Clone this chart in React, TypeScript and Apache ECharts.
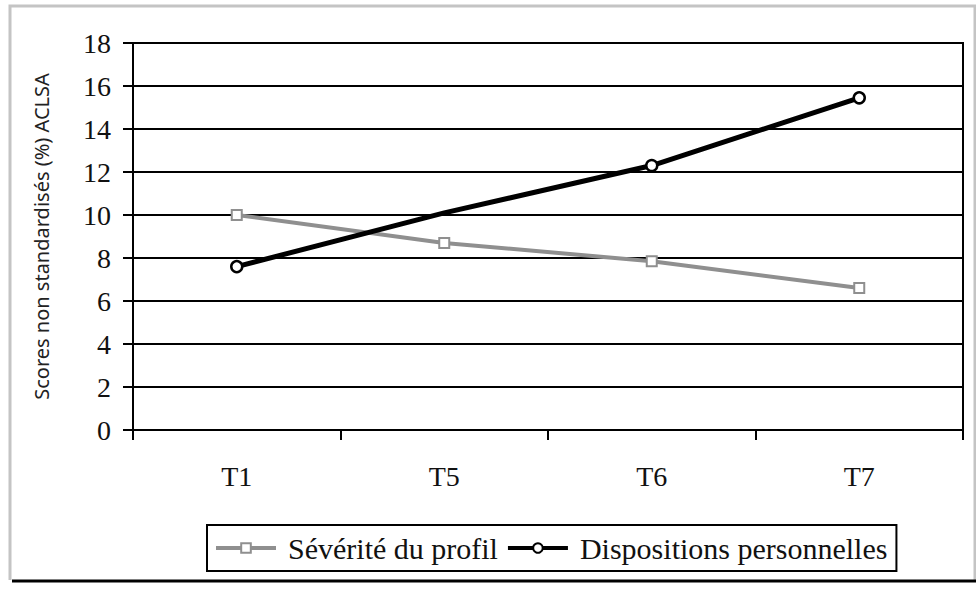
import React, { useEffect, useRef } from "react";
import * as echarts from "echarts";

const categories = ["T1", "T5", "T6", "T7"];
const severite = [10.0, 8.7, 7.85, 6.6];
const dispositions = [7.6, 10.1, 12.3, 15.45];
const dispositionsMarkerShown = [true, false, true, true];
const yTicks = { min: 0, max: 18, interval: 2 };
const seriesNames = ["Sévérité du profil", "Dispositions personnelles"];
const yAxisTitle = "Scores non standardisés (%) ACLSA";

const SERIF = "'Liberation Serif', 'Times New Roman', serif";
const SANS = "'Noto Sans', 'DejaVu Sans', sans-serif";

export default function App() {
  const ref = useRef<HTMLDivElement>(null);
  useEffect(() => {
    if (!ref.current) return;
    const chart = echarts.init(ref.current, undefined, { renderer: "svg" });
    const option: any = {
      animation: false,
      backgroundColor: "#ffffff",
      grid: {
        left: 133,
        top: 43,
        right: 13,
        bottom: 162,
        show: true,
        borderColor: "#000",
        borderWidth: 2,
        backgroundColor: "transparent",
      },
      legend: {
        left: 207,
        top: 525,
        padding: [8, 9, 8, 7],
        borderColor: "#000",
        borderWidth: 2,
        itemGap: 8,
        itemWidth: 60,
        itemHeight: 12,
        lineStyle: { width: 4 },
        textStyle: { fontFamily: SERIF, fontSize: 30, color: "#111", lineHeight: 30, padding: [0, 0, 0, 7] },
        data: seriesNames,
      },
      xAxis: {
        type: "category",
        data: categories,
        boundaryGap: true,
        axisLine: { lineStyle: { color: "#000", width: 2 } },
        axisTick: { show: true, length: 10, lineStyle: { color: "#000", width: 2 } },
        axisLabel: { fontFamily: SERIF, fontSize: 28, color: "#111", margin: 32 },
        splitLine: { show: false },
      },
      yAxis: {
        type: "value",
        min: yTicks.min,
        max: yTicks.max,
        interval: yTicks.interval,
        name: yAxisTitle,
        nameLocation: "middle",
        nameRotate: 90,
        nameGap: 82,
        nameTextStyle: { fontFamily: SANS, fontSize: 20, color: "#222" },
        axisLine: { show: true, lineStyle: { color: "#000", width: 2 } },
        axisTick: { show: true, length: 10, lineStyle: { color: "#000", width: 2 } },
        axisLabel: { fontFamily: SERIF, fontSize: 28, color: "#111", margin: 22 },
        splitLine: { show: true, lineStyle: { color: "#000", width: 2 } },
      },
      series: [
        {
          name: seriesNames[0],
          type: "line",
          data: severite,
          symbol: "rect",
          symbolSize: 10,
          lineStyle: { color: "#8f8f8f", width: 4 },
          itemStyle: { color: "#ffffff", borderColor: "#8f8f8f", borderWidth: 2 },
          z: 3,
        },
        {
          name: seriesNames[1],
          type: "line",
          data: dispositions.map((v, i) =>
            dispositionsMarkerShown[i] ? v : { value: v, symbol: "none" }
          ),
          symbol: "circle",
          symbolSize: 11,
          lineStyle: { color: "#000", width: 5 },
          itemStyle: { color: "#ffffff", borderColor: "#000", borderWidth: 2.5 },
          z: 4,
        },
      ],
      graphic: [
        {
          type: "polyline",
          shape: { points: [[10, 580], [10, 6], [975, 6], [975, 580]] },
          style: { stroke: "#c4c4c4", lineWidth: 3, fill: null },
          silent: true,
        },
        {
          type: "line",
          shape: { x1: 12, y1: 581, x2: 976, y2: 581 },
          style: { stroke: "#000", lineWidth: 3 },
          silent: true,
        },
      ],
    };
    chart.setOption(option);
    return () => chart.dispose();
  }, []);
  return (
    <div
      ref={ref}
      style={{ position: "fixed", left: 0, top: 0, width: 976, height: 592 }}
    />
  );
}
